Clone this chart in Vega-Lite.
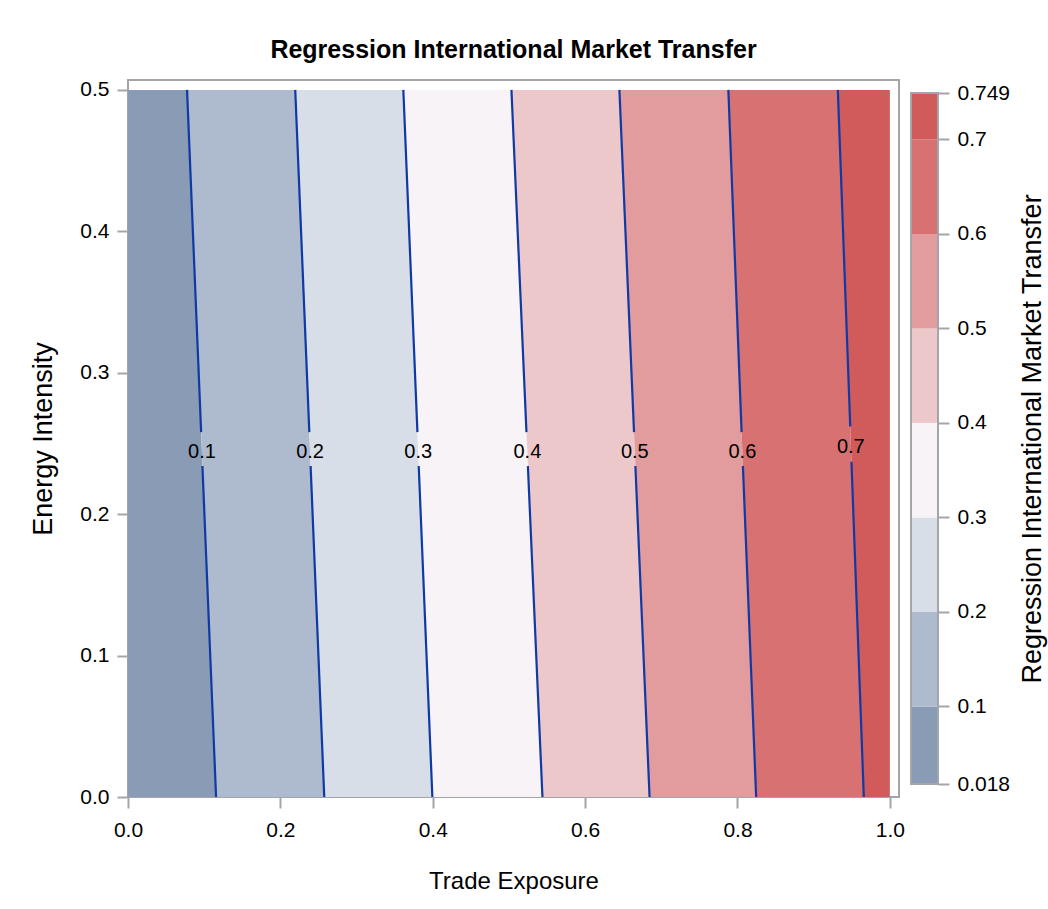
{
  "$schema": "https://vega.github.io/schema/vega-lite/v6.json",
  "background": "white",
  "padding": {"left": 28, "top": 36, "right": 5, "bottom": 5},
  "bounds": "flush",
  "spacing": 12,
  "datasets": {
    "bands": [
      {"band": "b1", "y": 0, "xl": 0, "xr": 0.1156},
      {"band": "b1", "y": 0.25, "xl": 0, "xr": 0.0966},
      {"band": "b1", "y": 0.5, "xl": 0, "xr": 0.0775},
      {"band": "b2", "y": 0, "xl": 0.1156, "xr": 0.2576},
      {"band": "b2", "y": 0.25, "xl": 0.0966, "xr": 0.2386},
      {"band": "b2", "y": 0.5, "xl": 0.0775, "xr": 0.2195},
      {"band": "b3", "y": 0, "xl": 0.2576, "xr": 0.3995},
      {"band": "b3", "y": 0.25, "xl": 0.2386, "xr": 0.3805},
      {"band": "b3", "y": 0.5, "xl": 0.2195, "xr": 0.3614},
      {"band": "b4", "y": 0, "xl": 0.3995, "xr": 0.544},
      {"band": "b4", "y": 0.25, "xl": 0.3805, "xr": 0.5237},
      {"band": "b4", "y": 0.5, "xl": 0.3614, "xr": 0.5033},
      {"band": "b5", "y": 0, "xl": 0.544, "xr": 0.6846},
      {"band": "b5", "y": 0.25, "xl": 0.5237, "xr": 0.6648},
      {"band": "b5", "y": 0.5, "xl": 0.5033, "xr": 0.645},
      {"band": "b6", "y": 0, "xl": 0.6846, "xr": 0.8245},
      {"band": "b6", "y": 0.25, "xl": 0.6648, "xr": 0.806},
      {"band": "b6", "y": 0.5, "xl": 0.645, "xr": 0.788},
      {"band": "b7", "y": 0, "xl": 0.8245, "xr": 0.9658},
      {"band": "b7", "y": 0.25, "xl": 0.806, "xr": 0.9488},
      {"band": "b7", "y": 0.5, "xl": 0.788, "xr": 0.9317},
      {"band": "b8", "y": 0, "xl": 0.9658, "xr": 1},
      {"band": "b8", "y": 0.25, "xl": 0.9488, "xr": 1},
      {"band": "b8", "y": 0.5, "xl": 0.9317, "xr": 1}
    ],
    "lines": [
      {"level": "0.1", "seg": "a", "y": 0, "x": 0.1156},
      {"level": "0.1", "seg": "a", "y": 0.234, "x": 0.0977},
      {"level": "0.1", "seg": "b", "y": 0.258, "x": 0.096},
      {"level": "0.1", "seg": "b", "y": 0.5, "x": 0.0775},
      {"level": "0.2", "seg": "a", "y": 0, "x": 0.2576},
      {"level": "0.2", "seg": "a", "y": 0.234, "x": 0.2397},
      {"level": "0.2", "seg": "b", "y": 0.258, "x": 0.238},
      {"level": "0.2", "seg": "b", "y": 0.5, "x": 0.2195},
      {"level": "0.3", "seg": "a", "y": 0, "x": 0.3995},
      {"level": "0.3", "seg": "a", "y": 0.234, "x": 0.3816},
      {"level": "0.3", "seg": "b", "y": 0.258, "x": 0.3799},
      {"level": "0.3", "seg": "b", "y": 0.5, "x": 0.3614},
      {"level": "0.4", "seg": "a", "y": 0, "x": 0.544},
      {"level": "0.4", "seg": "a", "y": 0.234, "x": 0.5249},
      {"level": "0.4", "seg": "b", "y": 0.258, "x": 0.523},
      {"level": "0.4", "seg": "b", "y": 0.5, "x": 0.5033},
      {"level": "0.5", "seg": "a", "y": 0, "x": 0.6846},
      {"level": "0.5", "seg": "a", "y": 0.234, "x": 0.666},
      {"level": "0.5", "seg": "b", "y": 0.258, "x": 0.6642},
      {"level": "0.5", "seg": "b", "y": 0.5, "x": 0.645},
      {"level": "0.6", "seg": "a", "y": 0, "x": 0.8245},
      {"level": "0.6", "seg": "a", "y": 0.234, "x": 0.8071},
      {"level": "0.6", "seg": "b", "y": 0.258, "x": 0.8054},
      {"level": "0.6", "seg": "b", "y": 0.5, "x": 0.788},
      {"level": "0.7", "seg": "a", "y": 0, "x": 0.9658},
      {"level": "0.7", "seg": "a", "y": 0.237, "x": 0.9496},
      {"level": "0.7", "seg": "b", "y": 0.262, "x": 0.948},
      {"level": "0.7", "seg": "b", "y": 0.5, "x": 0.9317}
    ],
    "labels": [
      {"label": "0.1", "x": 0.0971, "y": 0.244},
      {"label": "0.2", "x": 0.239, "y": 0.244},
      {"label": "0.3", "x": 0.381, "y": 0.244},
      {"label": "0.4", "x": 0.5242, "y": 0.244},
      {"label": "0.5", "x": 0.6652, "y": 0.244},
      {"label": "0.6", "x": 0.8064, "y": 0.244},
      {"label": "0.7", "x": 0.9488, "y": 0.2475}
    ],
    "legend": [
      {"band": "b1", "lo": 0.018, "hi": 0.1},
      {"band": "b2", "lo": 0.1, "hi": 0.2},
      {"band": "b3", "lo": 0.2, "hi": 0.3},
      {"band": "b4", "lo": 0.3, "hi": 0.4},
      {"band": "b5", "lo": 0.4, "hi": 0.5},
      {"band": "b6", "lo": 0.5, "hi": 0.6},
      {"band": "b7", "lo": 0.6, "hi": 0.7},
      {"band": "b8", "lo": 0.7, "hi": 0.749}
    ],
    "frame": [
      {"lo": 0.018, "hi": 0.749}
    ]
  },
  "hconcat": [
    {
      "width": 771,
      "height": 717,
      "title": {"text": "Regression International Market Transfer"},
      "layer": [
        {
          "data": {"name": "bands"},
          "mark": {"type": "area", "orient": "horizontal", "strokeWidth": 0},
          "encoding": {
            "y": {"field": "y", "type": "quantitative",
              "scale": {"domain": [0, 0.507], "nice": false, "zero": false},
              "axis": {"values": [0, 0.1, 0.2, 0.3, 0.4, 0.5], "format": ".1f", "title": "Energy Intensity", "titleFontSize": 27, "titlePadding": 22}},
            "x": {"field": "xl", "type": "quantitative",
              "scale": {"domain": [0, 1.012], "nice": false, "zero": false},
              "axis": {"values": [0, 0.2, 0.4, 0.6, 0.8, 1.0], "format": ".1f", "title": "Trade Exposure", "titlePadding": 29, "labelPadding": 11}},
            "x2": {"field": "xr"},
            "color": {"field": "band", "type": "nominal",
              "scale": {"domain": ["b1", "b2", "b3", "b4", "b5", "b6", "b7", "b8"],
                "range": ["#8a9bb5", "#aebbcf", "#d8dee8", "#f8f3f7", "#edc8cb", "#e29c9d", "#d87172", "#d05b5a"]},
              "legend": null}
          }
        },
        {
          "data": {"name": "lines"},
          "mark": {"type": "line", "color": "#0f3aa6", "strokeWidth": 2.2},
          "encoding": {
            "x": {"field": "x", "type": "quantitative"},
            "y": {"field": "y", "type": "quantitative"},
            "detail": [{"field": "level"}, {"field": "seg"}],
            "order": {"field": "y", "type": "quantitative"}
          }
        },
        {
          "data": {"name": "labels"},
          "mark": {"type": "text", "fontSize": 20, "color": "black", "align": "center", "baseline": "middle"},
          "encoding": {
            "x": {"field": "x", "type": "quantitative"},
            "y": {"field": "y", "type": "quantitative"},
            "text": {"field": "label"}
          }
        }
      ]
    },
    {
      "width": 27,
      "height": 717,
      "view": {"stroke": null},
      "layer": [
        {
          "data": {"name": "legend"},
          "mark": {"type": "rect"},
          "encoding": {
            "y": {"field": "lo", "type": "quantitative",
              "scale": {"domain": [0.00425, 0.7628], "nice": false, "zero": false},
              "axis": {"orient": "right", "values": [0.018, 0.1, 0.2, 0.3, 0.4, 0.5, 0.6, 0.7, 0.749], "labelExpr": "toString(datum.value)",
                "title": "Regression International Market Transfer", "titleFontSize": 27, "titleAngle": 270, "titleBaseline": "top", "titlePadding": 10, "labelOverlap": false}},
            "y2": {"field": "hi"},
            "color": {"field": "band", "type": "nominal", "legend": null}
          }
        },
        {
          "data": {"name": "frame"},
          "mark": {"type": "rect", "fill": null, "stroke": "#a2a6aa", "strokeWidth": 2},
          "encoding": {
            "y": {"field": "lo", "type": "quantitative"},
            "y2": {"field": "hi"}
          }
        }
      ]
    }
  ],
  "config": {
    "font": "Liberation Sans",
    "view": {"stroke": "#a2a6aa", "strokeWidth": 2},
    "axis": {
      "domain": false, "grid": false,
      "tickColor": "#a2a6aa", "tickWidth": 2, "tickSize": 11,
      "labelFontSize": 21, "labelColor": "black", "labelPadding": 8, "labelFlush": false,
      "titleFontSize": 24, "titleFontWeight": "normal", "titleColor": "black"
    },
    "title": {"fontSize": 25, "fontWeight": "bold", "color": "black", "offset": 16, "anchor": "middle"}
  }
}
